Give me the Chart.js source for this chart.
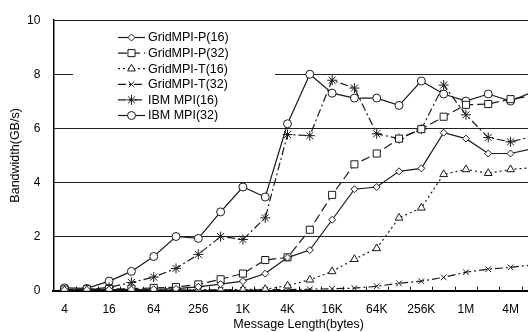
<!DOCTYPE html>
<html><head><meta charset="utf-8">
<script src="https://cdn.jsdelivr.net/npm/chart.js@4/dist/chart.umd.min.js"></script>
<style>
html,body{margin:0;padding:0;background:#fff;overflow:hidden;width:528px;height:332px}
#wrap{position:relative;width:560px;height:332px}
</style>
</head><body><div id="wrap"><canvas id="c" width="560" height="332"></canvas></div>
<script>
const categories = ['4','8','16','32','64','128','256','512','1K','2K','4K','8K','16K','32K','64K','128K','256K','512K','1M','2M','4M','8M'];
const yTicks = [0,2,4,6,8,10];
const seriesNames = ['GridMPI-P(16)','GridMPI-P(32)','GridMPI-T(16)','GridMPI-T(32)','IBM MPI(16)','IBM MPI(32)'];
const gridP16 = [0.03,0.03,0.04,0.04,0.05,0.07,0.14,0.24,0.35,0.63,1.22,1.5,2.62,3.75,3.83,4.41,4.52,5.84,5.62,5.07,5.07,5.25];
const gridP32 = [0.04,0.05,0.06,0.07,0.1,0.13,0.23,0.42,0.63,1.13,1.23,2.25,3.54,4.67,5.07,5.62,5.97,6.43,6.87,6.9,7.08,7.2];
const gridT16 = [0.02,0.02,0.02,0.02,0.03,0.03,0.03,0.03,0.04,0.05,0.18,0.4,0.71,1.16,1.56,2.69,3.06,4.3,4.48,4.34,4.48,4.55];
const gridT32 = [0.02,0.02,0.02,0.02,0.02,0.02,0.03,0.03,0.03,0.03,0.04,0.05,0.07,0.09,0.16,0.27,0.35,0.49,0.68,0.79,0.86,0.95];
const ibm16 = [0.02,0.04,0.12,0.3,0.5,0.82,1.34,2.0,1.89,2.69,5.77,5.73,7.78,7.49,5.8,5.62,5.97,7.6,6.5,5.66,5.5,5.7];
const ibm32 = [0.1,0.08,0.35,0.71,1.26,2.0,1.93,2.91,3.83,3.46,6.17,8.0,7.3,7.12,7.12,6.85,7.75,7.27,7.01,7.27,7.01,7.35];

const INK = '#1a1a1a';
const FONT = '"Liberation Sans", Arial, sans-serif';
const styles = [
  {pointStyle:'rectRot', pointRadius:3.5, borderDash:[]},
  {pointStyle:'rect', pointRadius:5, borderDash:[9,4]},
  {pointStyle:'triangle', pointRadius:4.5, borderDash:[2,3]},
  {pointStyle:'crossRot', pointRadius:4, borderDash:[8,3,2,3]},
  {pointStyle:'star', pointRadius:5, borderDash:[8,3,2,3]},
  {pointStyle:'circle', pointRadius:4, borderDash:[]}
];
const values = [gridP16, gridP32, gridT16, gridT32, ibm16, ibm32];

const datasets = values.map((v,i)=>({
  label: seriesNames[i], data: v,
  borderColor: INK, borderWidth: 1.2, backgroundColor: '#fff',
  pointBackgroundColor: '#fff', pointBorderColor: INK, pointBorderWidth: 1,
  pointStyle: styles[i].pointStyle, pointRadius: styles[i].pointRadius,
  borderDash: styles[i].borderDash, tension: 0, fill: false
}));

const legendPlugin = {
  id: 'customLegend',
  beforeDatasetsDraw(chart) {
    const ctx = chart.ctx;
    ctx.save();
    ctx.fillStyle = '#fff';
    ctx.fillRect(73, 24, 202, 99);
    chart.data.datasets.forEach((ds, i) => {
      const y = 37.5 + i * 15.6;
      ctx.strokeStyle = INK; ctx.lineWidth = 1.2;
      ctx.setLineDash(ds.borderDash);
      ctx.beginPath(); ctx.moveTo(118, y); ctx.lineTo(145, y); ctx.stroke();
      ctx.setLineDash([]);
      ctx.fillStyle = '#fff'; ctx.strokeStyle = INK; ctx.lineWidth = 1;
      Chart.helpers.drawPoint(ctx, {pointStyle: ds.pointStyle, radius: ds.pointRadius, borderWidth: 1, rotation: 0}, 131.5, y);
      ctx.fillStyle = '#000';
      ctx.font = '12.5px ' + FONT;
      ctx.textBaseline = 'middle'; ctx.textAlign = 'left';
      ctx.fillText(ds.label, 148, y + 0.5);
    });
    ctx.restore();
  },
  afterDatasetsDraw(chart) {
    const xs = chart.scales.x, ctx = chart.ctx;
    const half = (xs.getPixelForValue(1) - xs.getPixelForValue(0)) / 2;
    ctx.save();
    ctx.strokeStyle = INK; ctx.lineWidth = 1;
    for (let i = 0; i <= categories.length; i++) {
      const x = Math.round(xs.getPixelForValue(i) - half) + 0.5;
      ctx.beginPath(); ctx.moveTo(x, xs.top); ctx.lineTo(x, xs.top - 4); ctx.stroke();
    }
    ctx.restore();
  }
};

new Chart(document.getElementById('c'), {
  type: 'line',
  data: { labels: categories, datasets },
  options: {
    responsive: false, devicePixelRatio: 1, animation: false,
    layout: { padding: { left: 8, top: 3, right: 16, bottom: 0 } },
    plugins: { legend: { display: false }, tooltip: { enabled: false } },
    scales: {
      x: {
        type: 'category', offset: true,
        grid: { display: false, drawTicks: false },
        border: { display: true, color: '#000', width: 2 },
        ticks: { autoSkip: false, maxRotation: 0, minRotation: 0, padding: 12, color: '#000',
          font: { family: FONT, size: 12 },
          callback: (v, i) => (i % 2 === 0 ? categories[i] : '') },
        title: { display: true, text: 'Message Length(bytes)', color: '#000',
          font: { family: FONT, size: 12.5 }, padding: { top: -11.5, bottom: -0.5 } }
      },
      y: {
        min: 0, max: 10,
        afterBuildTicks: (s) => { s.ticks = yTicks.map(v => ({ value: v })); },
        grid: { color: '#222', lineWidth: 1, drawTicks: false },
        border: { display: true, color: '#000', width: 1.5 },
        ticks: { padding: 13, color: '#000', font: { family: FONT, size: 12 } },
        title: { display: true, text: 'Bandwidth(GB/s)', color: '#000',
          font: { family: FONT, size: 12.5 }, padding: { top: 0, bottom: -9 } }
      }
    }
  },
  plugins: [legendPlugin]
});
</script></body></html>
